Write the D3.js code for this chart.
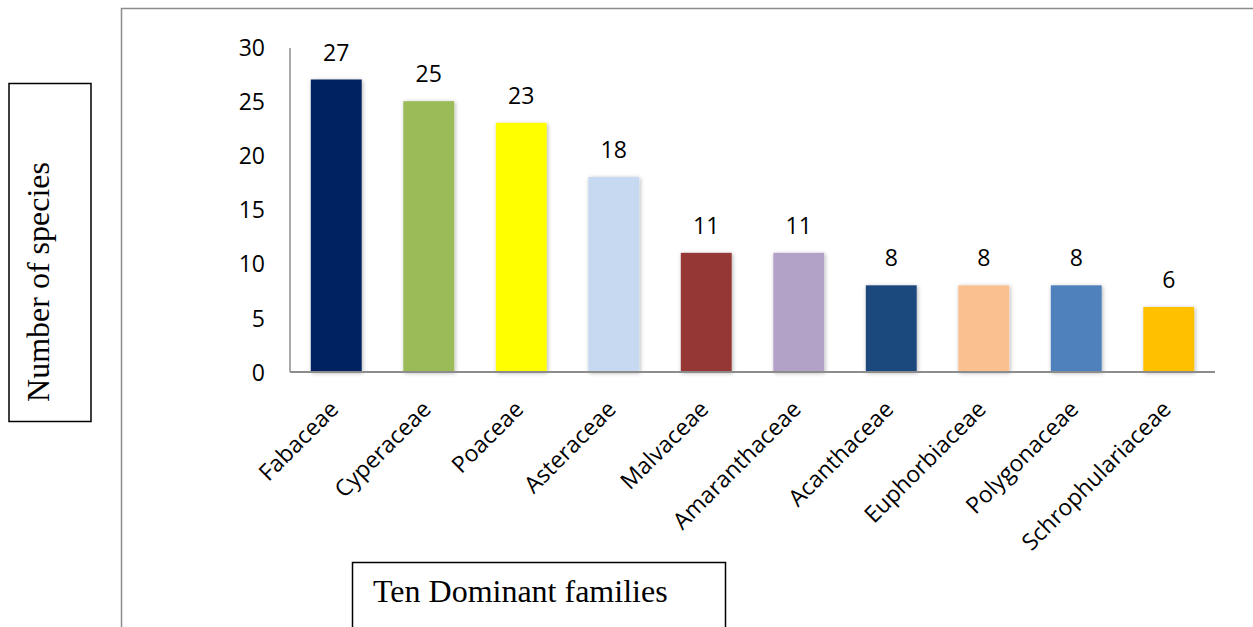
<!DOCTYPE html>
<html>
<head>
<meta charset="utf-8">
<script src="https://cdn.jsdelivr.net/npm/d3@7"></script>
<style>
  html, body { margin: 0; padding: 0; background: #fff; }
  svg { display: block; }
</style>
</head>
<body>
<svg id="chart" width="1253" height="627"></svg>
<script>
// Ten dominant plant families by number of species
const families = ["Fabaceae", "Cyperaceae", "Poaceae", "Asteraceae", "Malvaceae",
                  "Amaranthaceae", "Acanthaceae", "Euphorbiaceae", "Polygonaceae", "Schrophulariaceae"];
const speciesCounts = [27, 25, 23, 18, 11, 11, 8, 8, 8, 6];
const barColors = ["#002060", "#9BBB59", "#FFFF00", "#C6D9F1", "#953735",
                   "#B3A2C7", "#1F497D", "#FAC090", "#4F81BD", "#FFC000"];
const yTicks = [0, 5, 10, 15, 20, 25, 30];

const svg = d3.select("#chart");
const W = 1253, H = 627;
const plot = { left: 290, right: 1215, top: 47, bottom: 372 };
const sans = "'Open Sans', Lato, sans-serif";
const serif = "'Liberation Serif', 'Times New Roman', serif";

// soft shadow around the bars
const defs = svg.append("defs");
const f = defs.append("filter").attr("id", "barShadow")
  .attr("x", "-20%").attr("y", "-10%").attr("width", "140%").attr("height", "120%");
f.append("feDropShadow").attr("dx", 1).attr("dy", 1).attr("stdDeviation", 2)
  .attr("flood-color", "#000").attr("flood-opacity", 0.3);

// outer frame (top and left edges)
svg.append("path")
  .attr("d", `M121.5,${H} L121.5,8.5 L${W},8.5`)
  .attr("fill", "none").attr("stroke", "#8c8c8c").attr("stroke-width", 1.5);

const x = d3.scaleBand().domain(families).range([plot.left, plot.right]).paddingInner(0.45).paddingOuter(0.225);
const y = d3.scaleLinear().domain([0, 30]).range([plot.bottom, plot.top]);

// bars
svg.append("g").selectAll("rect")
  .data(families)
  .join("rect")
  .attr("x", d => x(d))
  .attr("y", (d, i) => y(speciesCounts[i]))
  .attr("width", x.bandwidth())
  .attr("height", (d, i) => y(0) - y(speciesCounts[i]))
  .attr("fill", (d, i) => barColors[i])
  .attr("filter", "url(#barShadow)");

// value labels
svg.append("g").selectAll("text")
  .data(families)
  .join("text")
  .attr("x", d => x(d) + x.bandwidth() / 2)
  .attr("y", (d, i) => y(speciesCounts[i]) - 19)
  .attr("text-anchor", "middle")
  .attr("font-family", sans).attr("font-size", 23).attr("fill", "#000")
  .text((d, i) => speciesCounts[i]);

// y axis
const yAxis = svg.append("g")
  .attr("transform", `translate(${plot.left},0)`)
  .call(d3.axisLeft(y).tickValues(yTicks).tickSize(0).tickPadding(25));
yAxis.select(".domain").attr("stroke", "#8c8c8c").attr("stroke-width", 1.5)
  .attr("d", `M0,${plot.top + 1}V${plot.bottom}`);
yAxis.selectAll("text").attr("font-family", sans).attr("font-size", 23).attr("fill", "#000")
  .attr("dy", "0.36em");

// x axis
const xAxis = svg.append("g")
  .attr("transform", `translate(0,${plot.bottom})`)
  .call(d3.axisBottom(x).tickSize(0).tickPadding(0));
xAxis.select(".domain").attr("stroke", "#8c8c8c").attr("stroke-width", 2)
  .attr("d", `M${plot.left},0H${plot.right}`);
xAxis.selectAll("text")
  .attr("font-family", sans).attr("font-size", 23).attr("fill", "#000")
  .attr("text-anchor", "end")
  .attr("y", 0)
  .attr("dy", "0.35em")
  .attr("transform", "translate(-2,33) rotate(-45)");

// y title box
svg.append("rect").attr("x", 9).attr("y", 83.5).attr("width", 82).attr("height", 338)
  .attr("fill", "none").attr("stroke", "#000").attr("stroke-width", 1.5);
svg.append("text")
  .attr("transform", "translate(49,282) rotate(-90)")
  .attr("text-anchor", "middle")
  .attr("font-family", serif).attr("font-size", 32).attr("fill", "#000")
  .text("Number of species");

// x title box
svg.append("path")
  .attr("d", `M352.5,${H} V562.5 H725.5 V${H}`)
  .attr("fill", "none").attr("stroke", "#000").attr("stroke-width", 1.5);
svg.append("text")
  .attr("x", 373).attr("y", 602)
  .attr("font-family", serif).attr("font-size", 32).attr("fill", "#000")
  .text("Ten Dominant families");
</script>
</body>
</html>
